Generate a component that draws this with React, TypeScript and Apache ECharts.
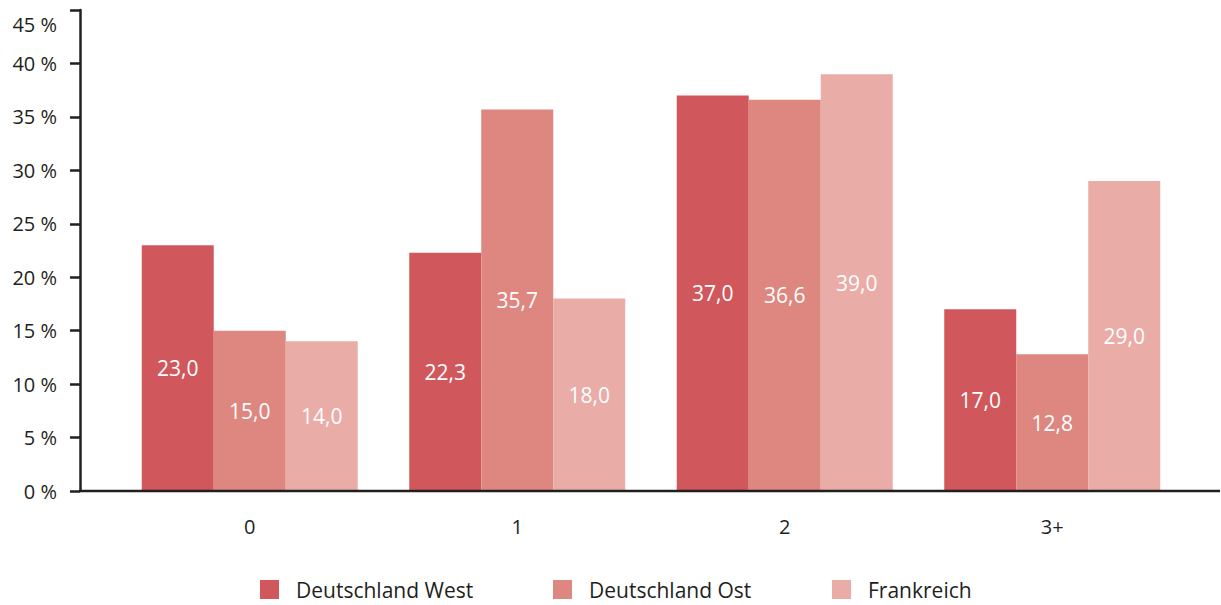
import React, { useEffect, useRef } from "react";
import * as echarts from "echarts";

const categories = ["0", "1", "2", "3+"];
const seriesNames = ["Deutschland West", "Deutschland Ost", "Frankreich"];
const west = [23.0, 22.3, 37.0, 17.0];
const ost = [15.0, 35.7, 36.6, 12.8];
const frankreich = [14.0, 18.0, 39.0, 29.0];
const colors = ["#d0575c", "#de8680", "#e9aca6"];
const yTicks = { min: 0, max: 45, interval: 5 };

const FONT = "Open Sans";
const DARK = "#231f20";

export default function App() {
  const ref = useRef<HTMLDivElement>(null);
  useEffect(() => {
    if (!ref.current) return;
    const chart = echarts.init(ref.current, null, { renderer: "svg" });
    const dataSets = [west, ost, frankreich];
    const legendLefts = [260, 553, 832];
    chart.setOption({
      animation: false,
      textStyle: { fontFamily: FONT },
      grid: { left: 116, right: 35, top: 10, bottom: 114 },
      legend: seriesNames.map((n, i) => ({
        data: [n],
        left: legendLefts[i],
        top: 579,
        padding: 0,
        itemWidth: 19,
        itemHeight: 19,
        icon: "rect",
        textStyle: {
          fontSize: 21,
          lineHeight: 19,
          color: DARK,
          fontFamily: FONT,
          padding: [0, 0, 0, 12],
        },
      })),
      xAxis: {
        type: "category",
        data: categories,
        axisLine: { show: false },
        axisTick: { show: false },
        axisLabel: { color: DARK, fontSize: 20, margin: 25, fontFamily: FONT },
      },
      yAxis: {
        type: "value",
        min: yTicks.min,
        max: yTicks.max,
        interval: yTicks.interval,
        offset: 36,
        splitLine: { show: false },
        axisLine: { show: true, lineStyle: { color: DARK, width: 2.5 } },
        axisTick: { show: true, length: 10, lineStyle: { color: DARK, width: 2.5 } },
        axisLabel: {
          color: DARK,
          fontSize: 20,
          margin: 23,
          fontFamily: FONT,
          formatter: (v: number) => (v === yTicks.max ? `{top|${v} %}` : `${v} %`),
          rich: {
            top: { fontSize: 20, fontFamily: FONT, color: DARK, padding: [28, 0, 0, 0] },
          },
        },
      },
      graphic: [
        {
          type: "line",
          shape: { x1: 79, y1: 491, x2: 1220, y2: 491 },
          style: { stroke: DARK, lineWidth: 2.5 },
          z: 100,
        },
      ],
      series: seriesNames.map((n, i) => ({
        name: n,
        type: "bar",
        data: dataSets[i],
        barWidth: 72,
        barGap: "0%",
        itemStyle: { color: colors[i] },
        label: {
          show: true,
          position: "inside",
          color: "#ffffff",
          fontSize: 21,
          fontFamily: FONT,
          formatter: (p: any) => Number(p.value).toFixed(1).replace(".", ","),
        },
      })),
    });
    return () => chart.dispose();
  }, []);
  return <div ref={ref} style={{ width: 1221, height: 605, position: "absolute", left: 0, top: 0 }} />;
}
